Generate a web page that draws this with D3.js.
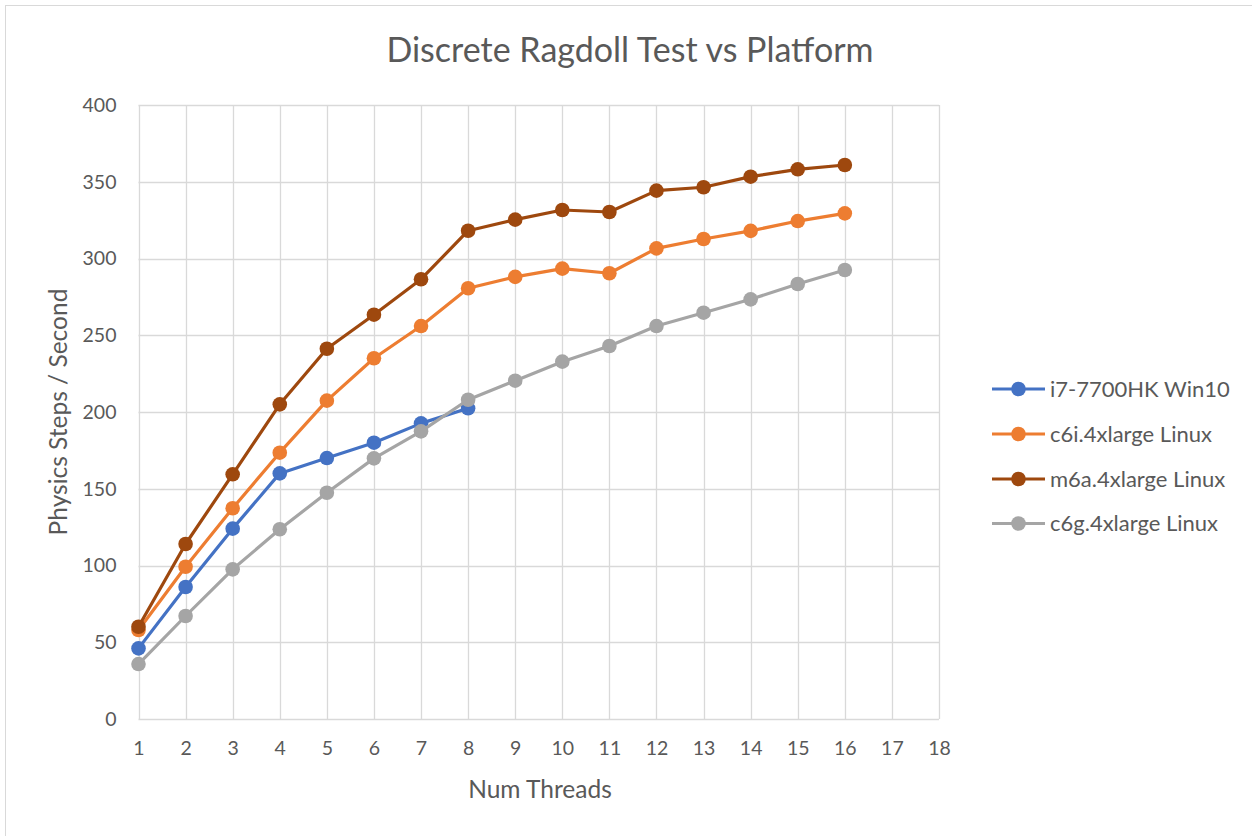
<!DOCTYPE html>
<html>
<head>
<meta charset="utf-8">
<script src="https://cdn.jsdelivr.net/npm/d3@7"></script>
<style>
  html, body { margin: 0; padding: 0; background: #ffffff; }
  svg { display: block; }
  text { font-family: "Lato", "Open Sans", sans-serif; fill: #595959; }
</style>
</head>
<body>
<svg id="chart" width="1252" height="836"></svg>
<script>
// ---- Data ----
const chartTitle = "Discrete Ragdoll Test vs Platform";
const xAxisTitle = "Num Threads";
const yAxisTitle = "Physics Steps / Second";
const xTicks = [1,2,3,4,5,6,7,8,9,10,11,12,13,14,15,16,17,18];
const yTicks = [0,50,100,150,200,250,300,350,400];
const seriesNames = ["i7-7700HK Win10", "c6i.4xlarge Linux", "m6a.4xlarge Linux", "c6g.4xlarge Linux"];
const seriesColors = ["#4472C4", "#ED7D31", "#9E480E", "#A5A5A5"];
const threadsI7 = [1,2,3,4,5,6,7,8];
const threadsAws = [1,2,3,4,5,6,7,8,9,10,11,12,13,14,15,16];
const i7Values  = [46, 86, 124, 160, 170, 180, 192.6, 202.4];
const c6iValues = [58, 99.2, 137.3, 173.5, 207.4, 235, 256, 280.6, 288, 293.4, 290.4, 306.6, 312.7, 318, 324.4, 329.4];
const m6aValues = [60.1, 114, 159.4, 205, 241.2, 263.4, 286.5, 318.1, 325.3, 331.6, 330.3, 344.2, 346.4, 353.3, 358.1, 360.9];
const c6gValues = [35.8, 67.1, 97.5, 123.6, 147.4, 169.8, 187.4, 208, 220.4, 232.8, 243, 256, 264.7, 273.4, 283.4, 292.5];

const series = [
  { name: seriesNames[0], color: seriesColors[0], xs: threadsI7,  ys: i7Values },
  { name: seriesNames[1], color: seriesColors[1], xs: threadsAws, ys: c6iValues },
  { name: seriesNames[2], color: seriesColors[2], xs: threadsAws, ys: m6aValues },
  { name: seriesNames[3], color: seriesColors[3], xs: threadsAws, ys: c6gValues }
];

// ---- Layout ----
const svg = d3.select("#chart");
const plot = { left: 138.5, right: 939, top: 105, bottom: 719 };

// chart border
svg.append("rect")
  .attr("x", 5.5).attr("y", 5.5)
  .attr("width", 1300).attr("height", 900)
  .attr("fill", "#ffffff").attr("stroke", "#D9D9D9").attr("stroke-width", 1);

const x = d3.scaleLinear().domain([1, 18]).range([plot.left, plot.right]);
const y = d3.scaleLinear().domain([0, 400]).range([plot.bottom, plot.top]);

// gridlines
const grid = svg.append("g");
grid.selectAll("line.h").data(yTicks).enter().append("line")
  .attr("x1", plot.left).attr("x2", plot.right)
  .attr("y1", d => Math.round(y(d)) + 0.5).attr("y2", d => Math.round(y(d)) + 0.5)
  .attr("stroke", "#D9D9D9").attr("stroke-width", 1.3);
grid.selectAll("line.v").data(xTicks).enter().append("line")
  .attr("y1", plot.top).attr("y2", plot.bottom)
  .attr("x1", d => Math.round(x(d)) + 0.5).attr("x2", d => Math.round(x(d)) + 0.5)
  .attr("stroke", "#D9D9D9").attr("stroke-width", 1.3);

// axes (labels only, via d3 axes)
const yAxis = svg.append("g")
  .attr("transform", `translate(${plot.left},0)`)
  .call(d3.axisLeft(y).tickValues(yTicks).tickSize(0).tickPadding(22));
yAxis.select(".domain").remove();
yAxis.selectAll("text").style("font-size", "19.5px").attr("fill", "#595959")
  .style("font-family", "Lato, 'Open Sans', sans-serif");

const xAxis = svg.append("g")
  .attr("transform", `translate(0,${plot.bottom})`)
  .call(d3.axisBottom(x).tickValues(xTicks).tickSize(0).tickPadding(22).tickFormat(d3.format("d")));
xAxis.select(".domain").remove();
xAxis.selectAll("text").style("font-size", "19.5px").attr("fill", "#595959")
  .style("font-family", "Lato, 'Open Sans', sans-serif");

// lines and markers
const line = d3.line().x(d => x(d[0])).y(d => y(d[1]));
series.forEach(s => {
  const pts = s.xs.map((v, i) => [v, s.ys[i]]);
  const g = svg.append("g");
  g.append("path").datum(pts)
    .attr("d", line).attr("fill", "none")
    .attr("stroke", s.color).attr("stroke-width", 3.2)
    .attr("stroke-linejoin", "round").attr("stroke-linecap", "round");
  g.selectAll("circle").data(pts).enter().append("circle")
    .attr("cx", d => x(d[0])).attr("cy", d => y(d[1]))
    .attr("r", 7.3).attr("fill", s.color);
});

// title
svg.append("text")
  .attr("x", 630).attr("y", 62)
  .attr("text-anchor", "middle")
  .style("font-size", "34px")
  .text(chartTitle);

// axis titles
svg.append("text")
  .attr("x", 540).attr("y", 798)
  .attr("text-anchor", "middle")
  .style("font-size", "24.5px")
  .text(xAxisTitle);

svg.append("text")
  .attr("transform", "translate(58,412) rotate(-90)")
  .attr("text-anchor", "middle")
  .attr("dy", "0.35em")
  .style("font-size", "24.5px")
  .text(yAxisTitle);

// legend
const legendRows = [389, 434, 479, 523.5];
const lg = svg.append("g");
series.forEach((s, i) => {
  const cy = legendRows[i];
  lg.append("line").attr("x1", 992).attr("x2", 1045).attr("y1", cy).attr("y2", cy)
    .attr("stroke", s.color).attr("stroke-width", 3.2);
  lg.append("circle").attr("cx", 1018.5).attr("cy", cy).attr("r", 7.3).attr("fill", s.color);
  lg.append("text").attr("x", 1050).attr("y", cy + 7.5)
    .style("font-size", "22px").text(s.name);
});
</script>
</body>
</html>
